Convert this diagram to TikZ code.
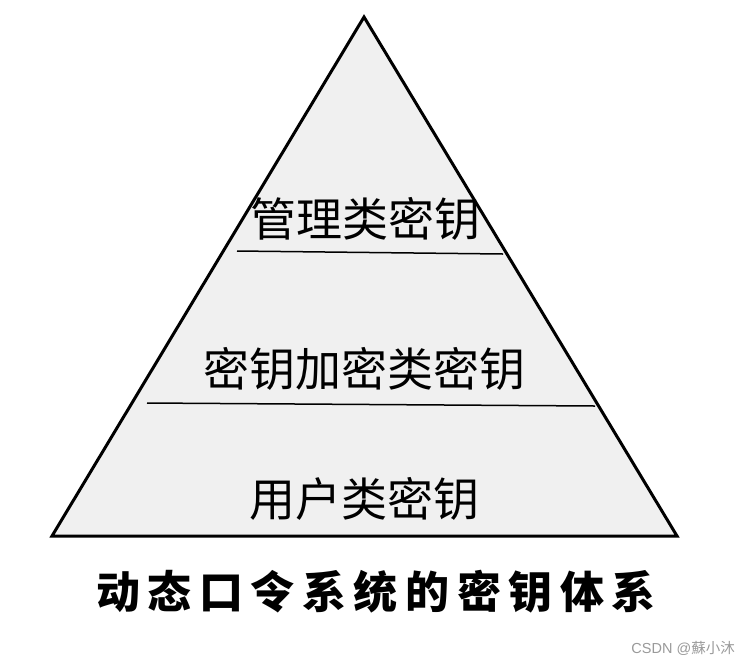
\documentclass[tikz,border=0pt]{standalone}
\usepackage{fontspec}
\newfontfamily\cjk{Noto Sans CJK SC}
\setmainfont{Liberation Sans}
\definecolor{tfill}{HTML}{F0F0F0}
\definecolor{wm}{HTML}{9A9A9A}
\newcommand{\cs}{\hspace{7.6pt}}
\begin{document}
\begin{tikzpicture}[x=1pt,y=-1pt,
  tri/.style={draw=black,line width=3pt,fill=tfill,line join=miter},
  divider/.style={draw=black,line width=1.5pt},
  layer/.style={font=\cjk\fontsize{46pt}{50pt}\selectfont,inner sep=0pt,anchor=center},
  caption/.style={font=\cjk\bfseries\fontsize{44pt}{48pt}\selectfont,inner sep=0pt,anchor=center},
  wmark/.style={font=\fontsize{14.5pt}{16pt}\selectfont,text=wm,inner sep=0pt,anchor=east}]
\useasboundingbox (0,0) rectangle (746,665);
\fill[white] (0,0) rectangle (746,665);
\coordinate (apex) at (364,17);
\coordinate (bl) at (52,536);
\coordinate (br) at (677,536);
\draw[tri] (apex) -- (br) -- (bl) -- cycle;
\coordinate (d1a) at (237,251);
\coordinate (d1b) at (503,254);
\coordinate (d2a) at (147,403);
\coordinate (d2b) at (595,406);
\draw[divider] (d1a) -- (d1b);
\draw[divider] (d2a) -- (d2b);
\node[layer] (l1) at (365,219) {管理类密钥};
\node[layer] (l2) at (364,369) {密钥加密类密钥};
\node[layer] (l3) at (364,499) {用户类密钥};
\node[caption] (cap) at (376,592) {动\cs 态\cs 口\cs 令\cs 系\cs 统\cs 的\cs 密\cs 钥\cs 体\cs 系};
\node[wmark] (wm) at (735,648) {CSDN @{\cjk 蘇小沐}};
\end{tikzpicture}
\end{document}
